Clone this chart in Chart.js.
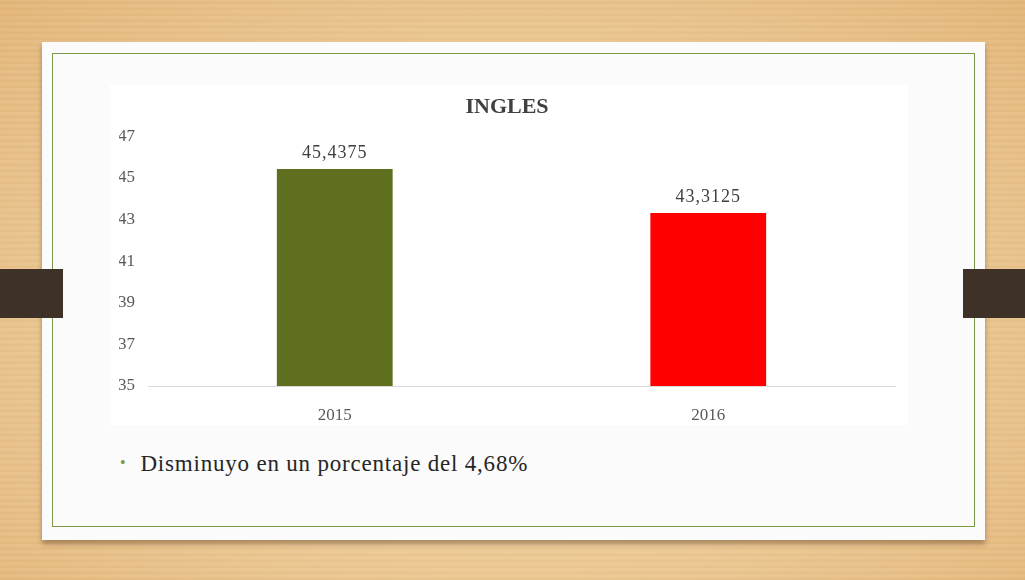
<!DOCTYPE html>
<html>
<head>
<meta charset="utf-8">
<script src="https://cdn.jsdelivr.net/npm/chart.js@4"></script>
<style>
  html, body { margin: 0; padding: 0; }
  body {
    width: 1025px; height: 580px; position: relative; overflow: hidden;
    background:
      repeating-linear-gradient(0deg, rgba(180,120,60,0.05) 0px, rgba(180,120,60,0.05) 2px, rgba(255,255,255,0.04) 3px, rgba(255,255,255,0.04) 6px),
      radial-gradient(ellipse at 50% 55%, #f3d9ad 0%, #ecc995 55%, #e3b67a 100%);
  }
  .slide {
    position: absolute; left: 42px; top: 42px; width: 943px; height: 498px;
    background: #fbfbfb;
    box-shadow: 0 4px 5px rgba(90,60,30,0.45);
  }
  .frame {
    position: absolute; left: 52px; top: 53px; width: 923px; height: 474px;
    border: 1.5px solid #7a9a4a; box-sizing: border-box;
  }
  .tab {
    position: absolute; top: 269px; height: 49px; background: #3e3128;
  }
  .tab.left { left: 0; width: 63px; }
  .tab.right { left: 963px; width: 62px; }
  .chartbox {
    position: absolute; left: 110px; top: 85px; width: 798px; height: 340px; background: #ffffff;
  }
  .bullet {
    position: absolute; left: 120px; top: 451px;
    font-family: "Liberation Serif", serif; font-size: 23px; letter-spacing: 0.8px; color: #262626;
  }
  .bullet span { color: #7a9a4a; font-size: 16px; margin-right: 14px; position: relative; top: -3px; }
</style>
</head>
<body>
<div class="slide"></div>
<div class="frame"></div>
<div class="tab left"></div>
<div class="tab right"></div>
<div class="chartbox"><canvas id="chart" width="798" height="340"></canvas></div>
<div class="bullet"><span>&#8226;</span>Disminuyo en un porcentaje del 4,68%</div>

<script>
const chartTitle = 'INGLES';
const years = ['2015', '2016'];
const scores = [45.4375, 43.3125];
const barColors = ['#5e7020', '#ff0000'];
const yMin = 35;
const yMax = 47;
const yStep = 2;

// writes the value above each bar, with a decimal comma
const valueLabels = {
  id: 'valueLabels',
  afterDatasetsDraw(chart) {
    const ctx = chart.ctx;
    const meta = chart.getDatasetMeta(0);
    ctx.save();
    ctx.font = '18px "Liberation Serif"';
    ctx.letterSpacing = '1px';
    ctx.fillStyle = '#404040';
    ctx.textAlign = 'center';
    ctx.textBaseline = 'bottom';
    meta.data.forEach((bar, i) => {
      const txt = String(scores[i]).replace('.', ',');
      ctx.fillText(txt, bar.x, bar.y - 7);
    });
    ctx.restore();
  }
};

new Chart(document.getElementById('chart'), {
  type: 'bar',
  data: {
    labels: years,
    datasets: [{
      data: scores,
      backgroundColor: barColors,
      borderWidth: 0,
      categoryPercentage: 1,
      barPercentage: 0.31
    }]
  },
  options: {
    responsive: false,
    animation: false,
    layout: { padding: { left: 9, right: 13, top: 0, bottom: 0 } },
    plugins: {
      legend: { display: false },
      tooltip: { enabled: false },
      title: {
        display: true,
        text: chartTitle,
        color: '#404040',
        font: { family: 'Liberation Serif', size: 22, weight: 'bold' },
        padding: { top: 9, bottom: 16 }
      }
    },
    scales: {
      x: {
        grid: { display: false },
        border: { display: true, color: '#d9d9d9', width: 1 },
        ticks: { color: '#595959', font: { family: 'Liberation Serif', size: 17 }, padding: 11 },
        afterFit(scale) { scale.height = 39; }
      },
      y: {
        min: yMin,
        max: yMax,
        grid: { display: false, drawTicks: false },
        border: { display: false },
        ticks: {
          stepSize: yStep,
          color: '#595959',
          font: { family: 'Liberation Serif', size: 17 },
          padding: 13
        },
        afterFit(scale) { scale.width = 29; }
      }
    }
  },
  plugins: [valueLabels]
});
</script>
</body>
</html>
